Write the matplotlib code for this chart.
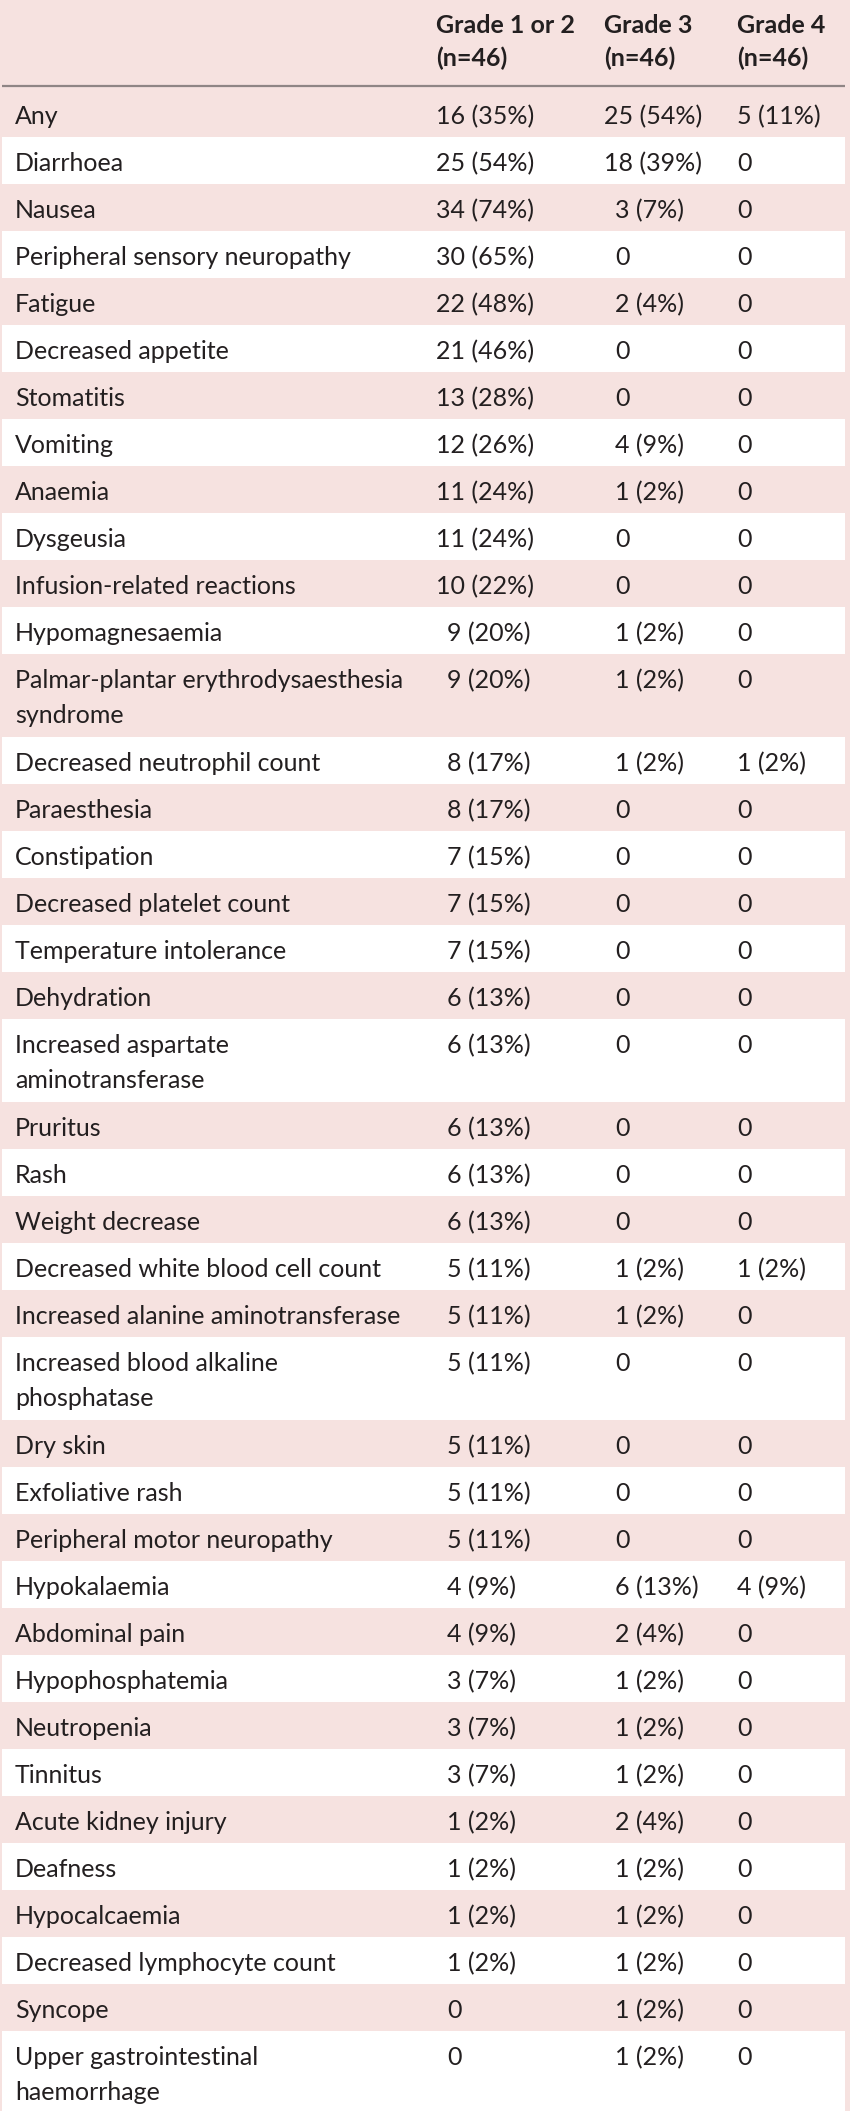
import matplotlib
matplotlib.use("Agg")
import matplotlib.pyplot as plt
from matplotlib.patches import Rectangle

# table content
headers = ["Grade 1 or 2\n(n=46)", "Grade 3\n(n=46)", "Grade 4\n(n=46)"]

events = [
    "Any", "Diarrhoea", "Nausea", "Peripheral sensory neuropathy", "Fatigue",
    "Decreased appetite", "Stomatitis", "Vomiting", "Anaemia", "Dysgeusia",
    "Infusion-related reactions", "Hypomagnesaemia",
    "Palmar-plantar erythrodysaesthesia\nsyndrome",
    "Decreased neutrophil count", "Paraesthesia", "Constipation",
    "Decreased platelet count", "Temperature intolerance", "Dehydration",
    "Increased aspartate\naminotransferase", "Pruritus", "Rash",
    "Weight decrease", "Decreased white blood cell count",
    "Increased alanine aminotransferase",
    "Increased blood alkaline\nphosphatase", "Dry skin", "Exfoliative rash",
    "Peripheral motor neuropathy", "Hypokalaemia", "Abdominal pain",
    "Hypophosphatemia", "Neutropenia", "Tinnitus", "Acute kidney injury",
    "Deafness", "Hypocalcaemia", "Decreased lymphocyte count", "Syncope",
    "Upper gastrointestinal\nhaemorrhage",
]

grade12 = [
    "16 (35%)", "25 (54%)", "34 (74%)", "30 (65%)", "22 (48%)", "21 (46%)",
    "13 (28%)", "12 (26%)", "11 (24%)", "11 (24%)", "10 (22%)", "9 (20%)",
    "9 (20%)", "8 (17%)", "8 (17%)", "7 (15%)", "7 (15%)", "7 (15%)",
    "6 (13%)", "6 (13%)", "6 (13%)", "6 (13%)", "6 (13%)", "5 (11%)",
    "5 (11%)", "5 (11%)", "5 (11%)", "5 (11%)", "5 (11%)", "4 (9%)",
    "4 (9%)", "3 (7%)", "3 (7%)", "3 (7%)", "1 (2%)", "1 (2%)", "1 (2%)",
    "1 (2%)", "0", "0",
]

grade3 = [
    "25 (54%)", "18 (39%)", "3 (7%)", "0", "2 (4%)", "0", "0", "4 (9%)",
    "1 (2%)", "0", "0", "1 (2%)", "1 (2%)", "1 (2%)", "0", "0", "0", "0",
    "0", "0", "0", "0", "0", "1 (2%)", "1 (2%)", "0", "0", "0", "0",
    "6 (13%)", "2 (4%)", "1 (2%)", "1 (2%)", "1 (2%)", "2 (4%)", "1 (2%)",
    "1 (2%)", "1 (2%)", "1 (2%)", "1 (2%)",
]

grade4 = [
    "5 (11%)", "0", "0", "0", "0", "0", "0", "0", "0", "0", "0", "0", "0",
    "1 (2%)", "0", "0", "0", "0", "0", "0", "0", "0", "0", "1 (2%)", "0",
    "0", "0", "0", "0", "4 (9%)", "0", "0", "0", "0", "0", "0", "0", "0",
    "0", "0",
]

W, H = 850, 2111
pink = "#f6e2e0"
ink = "#231f20"
font = ["Lato", "DejaVu Sans"]

fig = plt.figure(figsize=(W / 100, H / 100), dpi=100, facecolor=pink)
ax = fig.add_axes([0, 0, 1, 1])
ax.set_xlim(0, W)
ax.set_ylim(H, 0)
ax.axis("off")
ax.set_facecolor(pink)

col_x = [436, 604, 737]
label_x = 15
pad_single = 11   # single digit counts are indented by one figure width
fs = 18

# header
for x, h in zip(col_x, headers):
    for k, line in enumerate(h.split("\n")):
        ax.text(x, 33 + k * 33, line, fontsize=fs, fontweight="bold",
                family=font, color=ink, va="baseline", ha="left")
ax.plot([2, 845], [86, 86], color="#8f8585", lw=1.6, solid_capstyle="butt")

# body rows
top = 90
columns = [grade12, grade3, grade4]
for i, name in enumerate(events):
    nlines = name.count("\n") + 1
    rh = 47 + 36 * (nlines - 1)
    if i % 2 == 1:
        ax.add_patch(Rectangle((2, top), 843, rh, facecolor="white",
                               edgecolor="none", zorder=0))
    base = top + 34
    for k, line in enumerate(name.split("\n")):
        ax.text(label_x, base + k * 35, line, fontsize=fs, family=font,
                color=ink, va="baseline", ha="left")
    for j, col in enumerate(columns):
        cell = col[i]
        x = col_x[j]
        if j < 2 and len(cell.split(" ")[0]) == 1:
            x += pad_single
        ax.text(x, base, cell, fontsize=fs, family=font, color=ink,
                va="baseline", ha="left")
    top += rh

fig.savefig("out.png", dpi=100, facecolor=pink)
